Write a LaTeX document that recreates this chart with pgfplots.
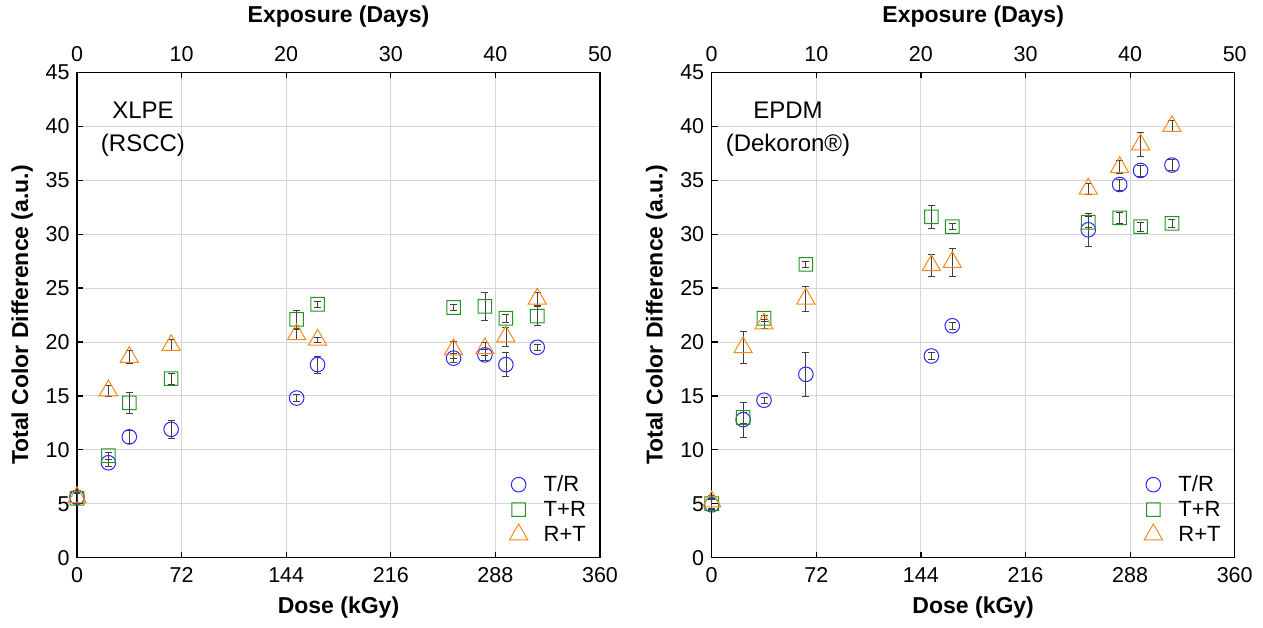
\documentclass[border=0pt]{standalone}
\usepackage{pgfplots}
\pgfplotsset{compat=1.18}
\usepackage{pgfplotstable}
\usepackage{fontspec}
\setmainfont{Liberation Sans}
\definecolor{cblue}{RGB}{40,40,255}
\definecolor{cgreen}{RGB}{30,150,30}
\definecolor{corange}{RGB}{255,135,20}

\pgfdeclareplotmark{sqring}{%
  \pgfmathsetlengthmacro\sqa{\pgfplotmarksize+0.5pt}%
  \pgfmathsetlengthmacro\sqb{\pgfplotmarksize-0.5pt}%
  \pgfpathmoveto{\pgfqpoint{-\sqa}{-\sqa}}%
  \pgfpathlineto{\pgfqpoint{\sqa}{-\sqa}}%
  \pgfpathlineto{\pgfqpoint{\sqa}{\sqa}}%
  \pgfpathlineto{\pgfqpoint{-\sqa}{\sqa}}%
  \pgfpathclose
  \pgfpathmoveto{\pgfqpoint{-\sqb}{-\sqb}}%
  \pgfpathlineto{\pgfqpoint{-\sqb}{\sqb}}%
  \pgfpathlineto{\pgfqpoint{\sqb}{\sqb}}%
  \pgfpathlineto{\pgfqpoint{\sqb}{-\sqb}}%
  \pgfpathclose
  \pgfusepathqfill}

\pgfplotstableread{
x y e
0 5.6 0.5
21.6 8.8 0.3
36 11.2 0.6
64.8 11.9 0.8
151.2 14.8 0.3
165.6 17.9 0.8
259.2 18.5 0.4
280.8 18.8 0.5
295.2 17.9 1.1
316.8 19.5 0.3
}\LTR
\pgfplotstableread{
x y e
0 5.5 0.5
21.6 9.45 0.3
36 14.35 1.0
64.8 16.6 0.5
151.2 22.1 0.8
165.6 23.5 0.3
259.2 23.2 0.3
280.8 23.3 1.3
295.2 22.2 0.4
316.8 22.4 0.9
}\LTpR
\pgfplotstableread{
x y e
0 5.6 0.6
21.6 15.5 0.5
36 18.6 0.6
64.8 19.7 0.5
151.2 20.7 0.5
165.6 20.2 0.2
259.2 19.3 0.8
280.8 19.4 0.6
295.2 20.5 0.9
316.8 24.0 0.6
}\LRpT
\pgfplotstableread{
x y e
0 4.9 0.5
21.6 12.8 1.6
36 14.6 0.3
64.8 17.0 2.0
151.2 18.7 0.3
165.6 21.5 0.3
259.2 30.4 1.5
280.8 34.6 0.5
295.2 35.9 0.5
316.8 36.4 0.5
}\RTR
\pgfplotstableread{
x y e
0 5.0 0.5
21.6 13.0 0.5
36 22.2 0.3
64.8 27.2 0.3
151.2 31.6 1.1
165.6 30.7 0.3
259.2 31.1 0.5
280.8 31.5 0.5
295.2 30.7 0.4
316.8 31.0 0.4
}\RTpR
\pgfplotstableread{
x y e
0 5.2 0.6
21.6 19.5 1.5
36 21.7 0.4
64.8 24.0 1.2
151.2 27.1 1.0
165.6 27.4 1.3
259.2 34.2 0.5
280.8 36.2 0.6
295.2 38.3 1.1
316.8 40.0 0.5
}\RRpT

\pgfplotsset{
  mainax/.style={
    scale only axis, width=523pt, height=485.4pt, anchor=south west,
    xmin=0, xmax=360, ymin=0, ymax=45, clip=false,
    xtick={0,72,...,360}, ytick={0,5,...,45},
    xtick pos=bottom, ytick pos=left, tick align=inside,
    major tick length=6pt,
    every tick/.style={black, line width=1.2pt},
    axis line style={black, line width=1.2pt},
    grid=major, major grid style={black!16, line width=0.9pt},
    /pgf/number format/assume math mode=true,
    ticklabel style={font=\fontsize{21.5}{24}\selectfont},
    xticklabel style={yshift=-6pt},
    yticklabel style={xshift=-4pt},
    xlabel={Dose (kGy)},
    ylabel={Total Color Difference (a.u.)},
    every axis x label/.style={at={(axis description cs:0.5,-0.1036)}, anchor=center, font=\fontsize{23}{26}\selectfont\bfseries},
    every axis y label/.style={at={(axis description cs:-0.105,0.5)}, rotate=90, anchor=center, font=\fontsize{23}{26}\selectfont\bfseries},
    legend style={at={(axis description cs:0.983,0.022)}, anchor=south east, draw=none, fill=none,
      font=\fontsize{22}{25}\selectfont, row sep=4pt,
      /tikz/every odd column/.append style={column sep=14pt}},
    legend cell align=left,
  },
  topax/.style={
    scale only axis, width=523pt, height=485.4pt, anchor=south west,
    xmin=0, xmax=50, ymin=0, ymax=45,
    axis x line*=top, axis y line=none,
    xtick={0,10,...,50}, tick align=inside, major tick length=6pt,
    every tick/.style={black, line width=1.2pt},
    axis line style={black, line width=1.2pt},
    /pgf/number format/assume math mode=true,
    ticklabel style={font=\fontsize{21.5}{24}\selectfont},
    xticklabel style={yshift=7pt},
    xlabel={Exposure (Days)},
    every axis x label/.style={at={(axis description cs:0.5,1.115)}, anchor=center, font=\fontsize{23}{26}\selectfont\bfseries},
  },
  errs/.style={forget plot, draw=none, mark=none,
    error bars/y dir=both, error bars/y explicit,
    error bars/error bar style={draw=black!75, line width=0.7pt},
    error bars/error mark options={rotate=90, mark size=3.5pt, draw=black!75, line width=0.7pt}},
  trs/.style={only marks, color=cblue, mark=o, mark size=7.3pt, mark options={draw=cblue, line width=1pt}},
  tprs/.style={only marks, color=cgreen, mark=sqring, mark size=6.8pt, mark options={fill=cgreen, draw=none}},
  rpts/.style={only marks, color=corange, mark=triangle, mark size=10.5pt, mark options={draw=corange, line width=1pt}},
}

\begin{document}
\begin{tikzpicture}
\path[use as bounding box] (-77pt,-69.3pt) rectangle (1186pt,557.7pt);
% left panel
\begin{axis}[mainax, at={(0pt,0pt)}]
\addplot[trs] table[x=x,y=y]{\LTR};
\addlegendentry{T/R}
\addplot[tprs] table[x=x,y=y]{\LTpR};
\addlegendentry{T+R}
\addplot[rpts] table[x=x,y=y]{\LRpT};
\addlegendentry{R+T}
\addplot[errs] table[x=x,y=y,y error=e]{\LTR};
\addplot[errs] table[x=x,y=y,y error=e]{\LTpR};
\addplot[errs] table[x=x,y=y,y error=e]{\LRpT};
\node[align=center, font=\fontsize{24}{33}\selectfont] at (axis cs:45.4,39.75) {XLPE\\(RSCC)};
\end{axis}
\begin{axis}[topax, at={(0pt,0pt)}]
\end{axis}
% right panel
\begin{axis}[mainax, at={(634.7pt,0pt)}]
\addplot[trs] table[x=x,y=y]{\RTR};
\addlegendentry{T/R}
\addplot[tprs] table[x=x,y=y]{\RTpR};
\addlegendentry{T+R}
\addplot[rpts] table[x=x,y=y]{\RRpT};
\addlegendentry{R+T}
\addplot[errs] table[x=x,y=y,y error=e]{\RTR};
\addplot[errs] table[x=x,y=y,y error=e]{\RTpR};
\addplot[errs] table[x=x,y=y,y error=e]{\RRpT};
\node[align=center, font=\fontsize{24}{33}\selectfont] at (axis cs:52.5,39.75) {EPDM\\(Dekoron®)};
\end{axis}
\begin{axis}[topax, at={(634.7pt,0pt)}]
\end{axis}
\end{tikzpicture}
\end{document}
